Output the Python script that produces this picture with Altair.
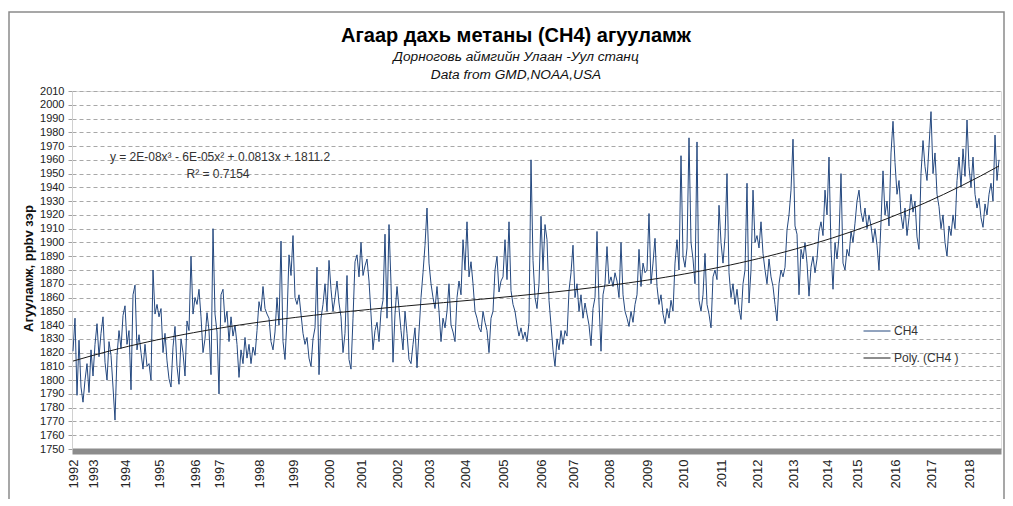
import json
import altair as alt
import pandas as pd

# ---- data (one list per year) ----
y1992 = [1821, 1845, 1789, 1829, 1795, 1784, 1800, 1812, 1791, 1822]
y1993 = [1803, 1826, 1841, 1817, 1834, 1846, 1813, 1800, 1828, 1818, 1795, 1771, 1818, 1836, 1823, 1847]
y1994 = [1854, 1826, 1836, 1793, 1862, 1869, 1822, 1833, 1820, 1808, 1826, 1810, 1812, 1800, 1880, 1848, 1855]
y1995 = [1846, 1852, 1820, 1834, 1814, 1801, 1795, 1824, 1839, 1810, 1797, 1830, 1820, 1803, 1843, 1836, 1890, 1848]
y1996 = [1860, 1855, 1866, 1846, 1820, 1830, 1849, 1836, 1804, 1910, 1848, 1835]
y1997 = [1790, 1862, 1866, 1842, 1850, 1828, 1846, 1832, 1840, 1826, 1802, 1822, 1812, 1831, 1816, 1826, 1812, 1824, 1818, 1836]
y1998 = [1857, 1850, 1868, 1852, 1848, 1845, 1828, 1822, 1835, 1860, 1840, 1901, 1828, 1815, 1845, 1891, 1876]
y1999 = [1905, 1860, 1855, 1862, 1848, 1834, 1826, 1831, 1816, 1810, 1830, 1838, 1882, 1804, 1845, 1855, 1870, 1850]
y2000 = [1887, 1866, 1850, 1860, 1872, 1856, 1846, 1820, 1834, 1876, 1815, 1808, 1845, 1886, 1891, 1875]
y2001 = [1900, 1876, 1883, 1888, 1872, 1848, 1822, 1836, 1842, 1828, 1850, 1858, 1906, 1845, 1913, 1870, 1813, 1848]
y2002 = [1868, 1852, 1836, 1822, 1850, 1834, 1815, 1812, 1826, 1838, 1809, 1835, 1860, 1878, 1898, 1925]
y2003 = [1885, 1870, 1860, 1852, 1868, 1850, 1828, 1845, 1838, 1850, 1870, 1840, 1835, 1828, 1860, 1872, 1862, 1902]
y2004 = [1880, 1915, 1875, 1886, 1870, 1850, 1845, 1838, 1835, 1850, 1842, 1836, 1820, 1845, 1850, 1880, 1890, 1864, 1872]
y2005 = [1875, 1902, 1873, 1915, 1865, 1855, 1850, 1840, 1832, 1838, 1830, 1835, 1828, 1842, 1960, 1887, 1860, 1852, 1870]
y2006 = [1919, 1880, 1913, 1902, 1858, 1840, 1822, 1810, 1830, 1822, 1836, 1826, 1836, 1832, 1865, 1878]
y2007 = [1898, 1860, 1870, 1850, 1862, 1845, 1856, 1848, 1840, 1825, 1852, 1860, 1908, 1856, 1821, 1862, 1870, 1897]
y2008 = [1870, 1875, 1868, 1878, 1872, 1860, 1900, 1862, 1850, 1845, 1839, 1850, 1842, 1855, 1862, 1895, 1868, 1885, 1878]
y2009 = [1880, 1921, 1870, 1885, 1903, 1868, 1855, 1862, 1848, 1841, 1852, 1845, 1858, 1850, 1885, 1902, 1880, 1963]
y2010 = [1890, 1882, 1896, 1976, 1900, 1888, 1870, 1973, 1858, 1850, 1862, 1892, 1855, 1848, 1838, 1875, 1880, 1873, 1927]
y2011 = [1900, 1885, 1904, 1950, 1878, 1860, 1870, 1855, 1866, 1852, 1844, 1870, 1880, 1943, 1856, 1880, 1938, 1900]
y2012 = [1905, 1896, 1915, 1892, 1880, 1870, 1888, 1875, 1868, 1855, 1843, 1870, 1880, 1875, 1882, 1909, 1920, 1938]
y2013 = [1975, 1912, 1906, 1862, 1895, 1888, 1900, 1885, 1861, 1882, 1890, 1878, 1888, 1908, 1915, 1905, 1938]
y2014 = [1920, 1962, 1895, 1866, 1900, 1888, 1904, 1950, 1885, 1880, 1895, 1890, 1908, 1900, 1914]
y2015 = [1930, 1938, 1922, 1915, 1925, 1910, 1920, 1912, 1900, 1910, 1898, 1880, 1915, 1952, 1920, 1930, 1912, 1965, 1988]
y2016 = [1958, 1935, 1945, 1920, 1910, 1925, 1905, 1918, 1935, 1922, 1930, 1904, 1895, 1950, 1974, 1955, 1945, 1970]
y2017 = [1995, 1950, 1965, 1935, 1926, 1910, 1920, 1900, 1890, 1912, 1905, 1920, 1910, 1945, 1962, 1940, 1968, 1948, 1989]
y2018 = [1955, 1940, 1962, 1935, 1925, 1932, 1918, 1911, 1928, 1920, 1935, 1943, 1930, 1978, 1945, 1960]

years = list(range(1992, 2019))
per_year = [y1992, y1993, y1994, y1995, y1996, y1997, y1998, y1999, y2000,
            y2001, y2002, y2003, y2004, y2005, y2006, y2007, y2008, y2009,
            y2010, y2011, y2012, y2013, y2014, y2015, y2016, y2017, y2018]

y_ticks = list(range(1750, 2011, 10))
series_names = ["CH4", "Poly. (CH4 )"]

title_text = "Агаар дахь метаны (CH4)  агууламж"
subtitle_1 = "Дорноговь аймгийн Улаан -Уул станц"
subtitle_2 = "Data from GMD,NOAA,USA"
y_title = "Агууламж, ppbv зэр"
eq_text = "y = 2E-08x³ - 6E-05x² + 0.0813x + 1811.2"
r2_text = "R² = 0.7154"

rows = []
year_starts = []
idx = 0
for yr, vals in zip(years, per_year):
    year_starts.append(idx)
    for v in vals:
        rows.append({"i": idx, "ch4": v, "series": series_names[0]})
        idx += 1
df = pd.DataFrame(rows)
N = idx

W, H = 929, 358
FONT = "Liberation Sans"

x_scale = alt.Scale(domain=[-0.5, N], nice=False, zero=False)
y_scale = alt.Scale(domain=[1750, 2010], nice=False, zero=False)
color_scale = alt.Scale(domain=series_names, range=["#24487F", "#1a1a1a"])

label_expr = "'' + (indexof(%s, datum.value) + %d)" % (json.dumps(year_starts), years[0])

x_axis = alt.Axis(values=year_starts, labelExpr=label_expr, labelAngle=-90,
                  labelAlign="right", labelBaseline="middle", grid=False,
                  ticks=False, tickSize=0, domainColor="#8c8c8c", domainWidth=6,
                  offset=2, labelFont=FONT, labelFontSize=13, labelColor="#222",
                  labelPadding=8, labelOverlap=False, labelFlush=False, title=None)
y_axis = alt.Axis(values=y_ticks, format="d", grid=True, gridColor="#a8a8a8",
                  gridDash=[4, 3], gridWidth=1, domainColor="#d0d0d0",
                  tickColor="#a0a0a0", tickSize=4, labelPadding=4,
                  labelFont=FONT, labelFontSize=11, labelColor="#222",
                  title=y_title, titleFont=FONT, titleFontSize=13,
                  titleFontWeight="bold", titleColor="#111", titleX=-44,
                  titleY=177, titleAngle=-90, titleAlign="center",
                  titleBaseline="middle", labelOverlap=False)

X = alt.X("i:Q", scale=x_scale, axis=x_axis)
Y = alt.Y("ch4:Q", scale=y_scale, axis=y_axis)

base = alt.Chart(df)

line = base.mark_line(strokeWidth=1, clip=True).encode(
    x=X, y=Y,
    color=alt.Color("series:N", scale=color_scale,
                    legend=alt.Legend(title=None, orient="none", legendX=791,
                                      legendY=226, symbolType="stroke",
                                      symbolSize=729, symbolStrokeWidth=1,
                                      labelFont=FONT, labelFontSize=12,
                                      labelColor="#333", rowPadding=7,
                                      labelOffset=3)),
)

trend = base.transform_regression("i", "ch4", method="poly", order=3).transform_calculate(
    series="'%s'" % series_names[1]
).mark_line(strokeWidth=1, clip=True).encode(
    x=X, y=Y,
    color=alt.Color("series:N", scale=color_scale),
)

one = pd.DataFrame({"k": [0]})
frame = alt.Chart(one).mark_rect(filled=False, stroke="#8a8a8a", strokeWidth=1.5,
                                 clip=False).encode(
    x=alt.value(-63), x2=alt.value(W + 3), y=alt.value(-79), y2=alt.value(H + 120))


def label(text, x, y, size, weight="normal", style="normal", color="#111"):
    return alt.Chart(one).mark_text(font=FONT, fontSize=size, fontWeight=weight,
                                    fontStyle=style, color=color, align="center",
                                    baseline="middle").encode(
        x=alt.value(x), y=alt.value(y), text=alt.value(text))


t_main = label(title_text, 444, -55, 20, weight="bold", color="#000")
t_sub1 = label(subtitle_1, 444, -34, 13.7, style="italic")
t_sub2 = label(subtitle_2, 444, -16, 13.7, style="italic")
eq1 = label(eq_text, 148, 66, 12, color="#333")
eq2 = label(r2_text, 146, 83, 12, color="#333")

chart = alt.layer(frame, line, trend, eq1, eq2, t_main, t_sub1, t_sub2).properties(
    width=W, height=H,
    autosize=alt.AutoSizeParams(type="none"),
    padding={"left": 64, "top": 83, "right": 4, "bottom": 50},
).configure_view(stroke=None).configure(background="white")

chart.save("out.html", embed_options={"renderer": "svg", "actions": False})
